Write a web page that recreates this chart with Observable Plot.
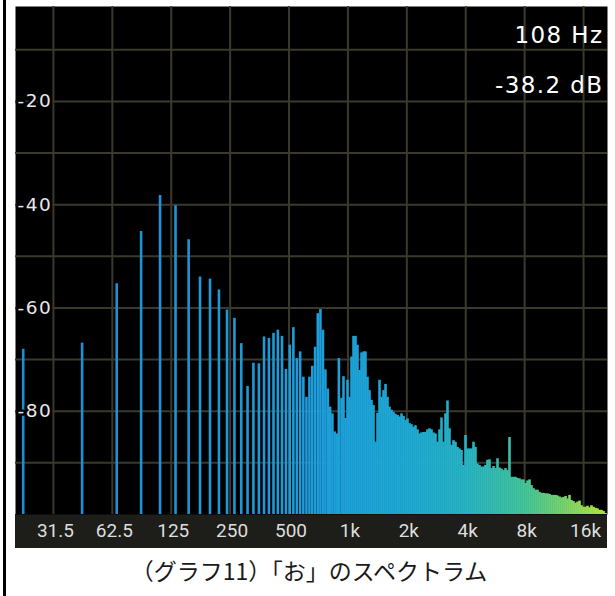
<!DOCTYPE html>
<html><head><meta charset="utf-8">
<script src="https://cdn.jsdelivr.net/npm/d3@7"></script>
<script src="https://cdn.jsdelivr.net/npm/@observablehq/plot@0.6"></script>
<style>
body{margin:0;background:#fff;}
#wrap{position:relative;width:615px;height:596px;overflow:hidden;background:#fff;}
#border{position:absolute;left:3px;top:0;width:3px;height:596px;background:#000;}
#band{position:absolute;left:15px;top:514px;width:592px;height:34px;background:#1d1d19;}
#chart{position:absolute;left:0;top:0;}
#caption{position:absolute;left:0;top:554px;width:618px;text-align:center;font-family:"Noto Sans CJK JP",sans-serif;font-size:23px;color:#1a1a1a;line-height:32px;}
.wide2{letter-spacing:1.4px;}
.wide1{letter-spacing:1.5px;paint-order:stroke;}
</style></head><body>
<div id="wrap"><div id="border"></div><div id="band"></div><div id="chart"></div><div id="caption">（グラフ11）「お」のスペクトラム</div></div>
<script>
// FFT bins (Hz) of the low, separated harmonics and their levels (dB)
const binFreqs = [21.9, 43.8, 65.8, 87.7, 109.6, 131.5, 153.4, 175.4, 197.3, 219.2,
  241.1, 263.0, 285.0, 306.9, 328.8, 350.7, 372.6, 394.6, 416.5, 438.4,
  460.3, 482.2, 504.2, 526.1, 548.0, 569.9, 591.8, 613.8, 635.7, 657.6,
  679.5, 701.4, 723.4, 745.3, 767.2, 789.1, 811.0, 833.0, 854.9, 876.8, 898.7];
const binDb = [-68.0, -66.8, -55.3, -45.2, -38.2, -40.2, -46.8, -54.0, -54.4, -56.5,
  -60.4, -62.0, -66.9, -75.2, -70.7, -70.8, -65.6, -65.9, -64.9, -64.3,
  -65.5, -71.9, -67.2, -63.8, -69.8, -68.5, -73.4, -77.3, -73.4, -71.3,
  -67.6, -61.1, -60.3, -64.3, -72.0, -75.7, -79.2, -80.5, -84.0, -84.4, -69.8];
// dense upper part of the spectrum, read column by column (Hz, dB)
const denseFreqs = [927, 949, 972, 995, 1018, 1043, 1068, 1093, 1119, 1146,
  1173, 1201, 1229, 1259, 1289, 1319, 1351, 1383, 1416, 1450,
  1484, 1520, 1556, 1593, 1631, 1670, 1709, 1750, 1792, 1834,
  1878, 1923, 1969, 2016, 2064, 2113, 2163, 2214, 2267, 2321,
  2376, 2433, 2491, 2550, 2611, 2673, 2737, 2802, 2869, 2937,
  3007, 3078, 3152, 3227, 3304, 3382, 3463, 3545, 3630, 3716,
  3805, 3895, 3988, 4083, 4180, 4280, 4382, 4486, 4593, 4702,
  4814, 4929, 5046, 5167, 5290, 5416, 5545, 5677, 5812, 5950,
  6092, 6237, 6386, 6538, 6694, 6853, 7016, 7183, 7354, 7530,
  7709, 7893, 8081, 8273, 8470, 8672, 8879, 9090, 9307, 9528,
  9755, 9988, 10226, 10469, 10719, 10974, 11235, 11503, 11777, 12057,
  12344, 12638, 12939, 13247, 13563, 13886, 14216, 14555, 14901, 15256,
  15619, 15991, 16372, 16762, 17161, 17569, 17987, 18416, 18854, 19303,
  19763, 20233, 20715];
const denseDb = [-77.5, -73.3, -81.4, -74.0, -77.3, -69.5, -65.5, -65.5, -67.2, -72.1,
  -68.7, -68.5, -68.5, -73.4, -76.0, -77.9, -78.9, -86.0, -80.4, -74.0,
  -77.3, -76.0, -74.8, -77.3, -79.2, -79.8, -80.2, -80.6, -80.8, -81.1,
  -80.5, -81.0, -81.8, -81.5, -82.4, -82.6, -83.1, -82.8, -83.6, -84.4,
  -84.2, -84.1, -84.1, -83.6, -83.4, -83.6, -84.2, -84.4, -86.0, -83.6,
  -81.3, -86.0, -80.5, -78.0, -83.4, -86.6, -85.7, -86.0, -87.0, -87.3,
  -87.6, -90.5, -84.7, -87.3, -87.3, -87.3, -86.0, -87.0, -90.2, -90.5,
  -90.8, -90.8, -90.5, -89.5, -89.4, -91.1, -90.7, -91.1, -89.2, -91.0,
  -91.2, -91.5, -91.1, -91.5, -85.1, -92.8, -92.8, -92.8, -93.0, -93.1,
  -93.3, -93.3, -94.0, -93.5, -93.3, -94.4, -95.0, -95.3, -95.3, -95.7,
  -95.9, -95.9, -96.0, -96.0, -96.1, -96.3, -96.3, -96.3, -96.4, -96.6,
  -96.8, -96.7, -96.5, -97.0, -96.3, -97.3, -97.5, -97.8, -97.6, -97.4,
  -98.3, -98.6, -98.6, -98.4, -98.7, -98.3, -98.6, -98.8, -98.9, -99.2,
  -99.2, -99.4, -99.8];
const xTicks = [31.25, 62.5, 125, 250, 500, 1000, 2000, 4000, 8000, 16000];
const xTickLabels = ["31.5", "62.5", "125", "250", "500", "1k", "2k", "4k", "8k", "16k"];
const yGridValues = [-10, -20, -30, -40, -50, -60, -70, -80, -90];
const yTicks = [-20, -40, -60, -80];
const yTickLabels = ["-20", "-40", "-60", "-80"];
const peakFreqLabel = "108 Hz";
const peakLevelLabel = "-38.2 dB";
const gradientStops = [20, 700, 2000, 4000, 8000, 13000, 21000];
const gradientColors = ["#1c8dd2", "#1d9dda", "#1ea9d3", "#27b3c3", "#42c59a", "#7ad46b", "#b8e838"];

const spectrum = binFreqs.map((f, i) => ({f, db: binDb[i]}))
  .concat(denseFreqs.map((f, i) => ({f, db: denseDb[i]})));

const chart = Plot.plot({
  width: 615, height: 548,
  marginTop: 6, marginBottom: 34, marginLeft: 15, marginRight: 8,
  x: {type: "log", domain: [20, 21210], axis: null},
  y: {domain: [-100, -1.6], axis: null},
  color: {type: "log", domain: gradientStops, range: gradientColors, interpolate: "rgb"},
  style: {background: "transparent", fontFamily: "Roboto, sans-serif", overflow: "visible"},
  marks: [
    Plot.frame({fill: "#000", stroke: null}),
    Plot.ruleX(xTicks, {x: d => d, stroke: "#3a392c", strokeWidth: 2}),
    Plot.ruleY(yGridValues, {y: d => d, stroke: "#3a392c", strokeWidth: 2}),
    Plot.ruleX(spectrum, {x: "f", y1: -100, y2: "db", stroke: "f", strokeWidth: 2.6}),
    Plot.text(yTicks, {y: d => d, text: (d, i) => yTickLabels[i], frameAnchor: "left", dx: 2,
      textAnchor: "start", fill: "#e8e8e8", stroke: "#000", strokeWidth: 5, fontSize: 18.5,
      fontFamily: "DejaVu Sans"}),
    Plot.text(xTicks, {x: d => d, text: (d, i) => xTickLabels[i], frameAnchor: "bottom", dy: 22, dx: 2,
      fill: "#dedede", fontSize: 19}),
    Plot.text([peakFreqLabel], {text: d => d, frameAnchor: "top-right", dx: -4, dy: 20,
      textAnchor: "end", fill: "#fff", fontSize: 23, fontFamily: "DejaVu Sans"}),
    Plot.text([peakLevelLabel], {text: d => d, frameAnchor: "top-right", dx: -4, dy: 70,
      textAnchor: "end", fill: "#fff", fontSize: 23, fontFamily: "DejaVu Sans"})
  ]
});
d3.select(chart).selectAll("text").each(function() {
  const t = this.textContent;
  if (t === peakFreqLabel || t === peakLevelLabel) this.setAttribute("class", "wide2");
  if (yTickLabels.includes(t)) this.setAttribute("class", "wide1");
});
document.getElementById("chart").appendChild(chart);
</script>
</body></html>
